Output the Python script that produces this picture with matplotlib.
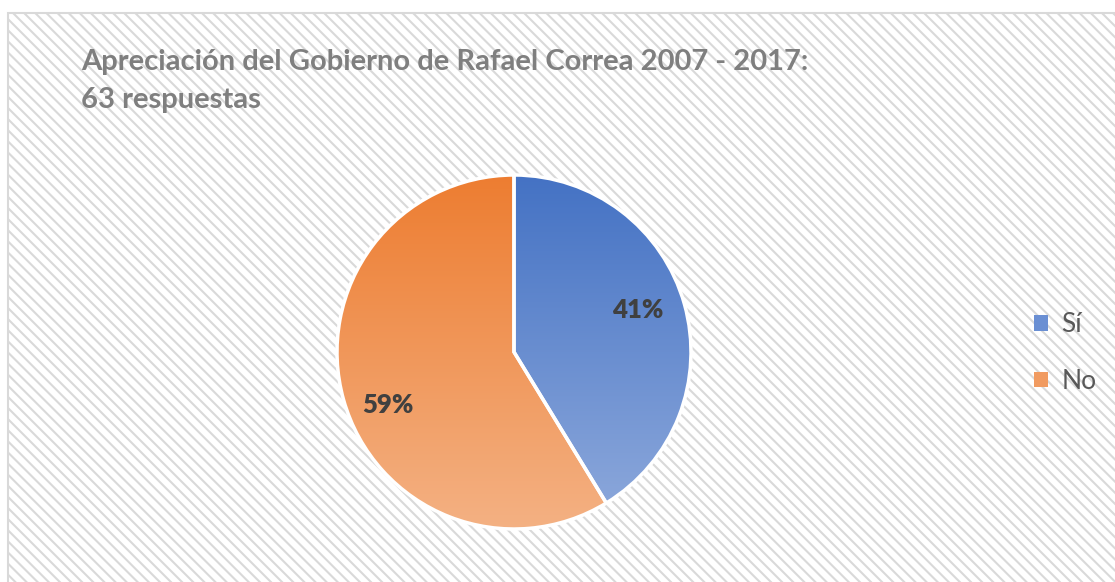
import matplotlib
matplotlib.use("Agg")
import matplotlib.pyplot as plt
import numpy as np
from matplotlib.patches import Rectangle
from matplotlib.colors import LinearSegmentedColormap

# data
labels = ["Sí", "No"]
counts = [26, 37]
title = "Apreciación del Gobierno de Rafael Correa 2007 - 2017:\n63 respuestas"
top_colors = ["#4472C4", "#ED7D31"]
bottom_colors = ["#8FAADC", "#F4B183"]
# data label spots inside the pie (fraction of radius)
label_xy = [(0.70, 0.24), (-0.71, -0.30)]

plt.rcParams["hatch.linewidth"] = 1.5
plt.rcParams["hatch.color"] = "#E5E5E5"

fig = plt.figure(figsize=(11.15, 5.82), dpi=100)
fig.patch.set_facecolor("white")

# chart area background with diagonal stripes
bg = Rectangle((8 / 1115, -0.1), 1.1, 0.1 + (582 - 13) / 582, transform=fig.transFigure,
               facecolor="white", edgecolor="#D9D9D9", hatch="\\\\\\", linewidth=1.5,
               zorder=-5)
fig.patches.append(bg)

fig.text(81 / 1115, 1 - 49 / 582, title, fontsize=21, fontweight="bold",
         color="#7F7F7F", family="Lato", va="top", linespacing=1.55, zorder=2)

cx, cy, r = 514, 352, 177
ax = fig.add_axes([(cx - r) / 1115, (582 - cy - r) / 582, 2 * r / 1115, 2 * r / 582])
ax.set_zorder(1)
ax.axis("off")

wedges, texts, autotexts = ax.pie(counts, startangle=90, counterclock=False, radius=1,
                                  autopct="%1.0f%%", pctdistance=0.75,
                                  wedgeprops=dict(edgecolor="white", linewidth=2.5),
                                  textprops=dict(fontsize=18.5, fontweight="heavy",
                                                 color="#404040", family="Lato"))
grad = np.linspace(0, 1, 256).reshape(-1, 1)
for w, c0, c1 in zip(wedges, top_colors, bottom_colors):
    cmap = LinearSegmentedColormap.from_list("g", [c0, c1])
    w.set_facecolor("none")
    im = ax.imshow(grad, cmap=cmap, extent=[-1, 1, -1, 1], origin="upper",
                   aspect="auto", zorder=0.5)
    im.set_clip_path(w)
for w in wedges:
    w.set_zorder(1)
for t, xy in zip(autotexts, label_xy):
    t.set_position(xy)
    t.set_zorder(3)
ax.set_xlim(-1.0, 1.0)
ax.set_ylim(-1.0, 1.0)

handles = [Rectangle((0, 0), 1, 1, facecolor=c, edgecolor="none") for c in ["#6A8FD3", "#F19B61"]]
leg = fig.legend(handles, labels, loc="center left", bbox_to_anchor=(1010 / 1115, 1 - 353 / 582),
                 frameon=False, fontsize=19, handlelength=0.55, handleheight=0.55,
                 labelspacing=1.2, handletextpad=0.5)
for t in leg.get_texts():
    t.set_color("#595959")
    t.set_family("Lato")

fig.savefig("out.png", dpi=100)
